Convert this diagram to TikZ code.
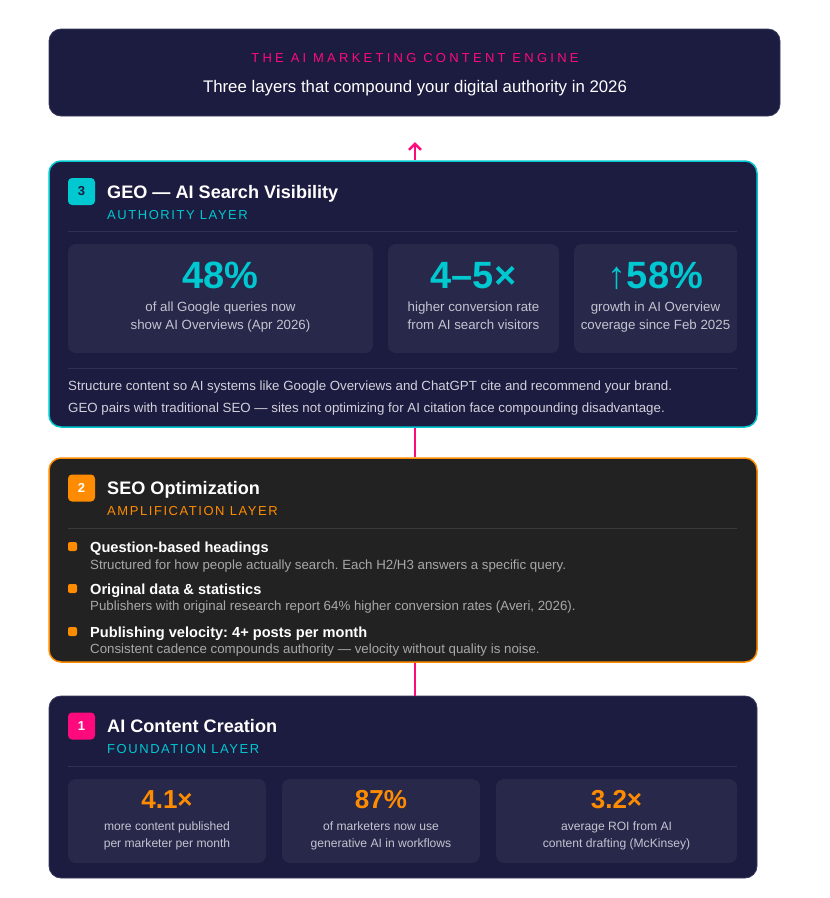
\documentclass[tikz,border=0pt]{standalone}
\usepackage{fontspec}
\setmainfont{Liberation Sans}
\usetikzlibrary{arrows.meta}
\frenchspacing
\definecolor{navy}{HTML}{1C1B40}
\definecolor{cardbg}{HTML}{28284B}
\definecolor{seobg}{HTML}{222222}
\definecolor{cyanc}{HTML}{00C8D0}
\definecolor{orangec}{HTML}{FF8C00}
\definecolor{pinkc}{HTML}{FF0A7C}
\definecolor{divnavy}{HTML}{302F58}
\definecolor{divseo}{HTML}{3A3A3A}
\definecolor{greytxt}{HTML}{C4C4D0}
\definecolor{seogrey}{HTML}{A8A8A8}
\definecolor{paratxt}{HTML}{D2D2DC}
\definecolor{edgec}{HTML}{3A3960}
\tikzset{
  layer/.style={rectangle, rounded corners=12pt, inner sep=0pt},
  card/.style={rectangle, rounded corners=8pt, fill=cardbg, inner sep=0pt},
  badge/.style={rectangle, rounded corners=4pt, minimum width=27pt, minimum height=27pt, inner sep=0pt, font=\fontsize{13}{13}\selectfont\bfseries},
  tw/.style={inner sep=0pt, anchor=base west},
  tcen/.style={inner sep=0pt, anchor=base},
  hdtitle/.style={tcen, text=pinkc, font=\fontsize{13}{15}\selectfont\addfontfeatures{LetterSpace=25}},
  hdsub/.style={tcen, text=white, font=\fontsize{16.8}{19}\selectfont},
  ltitle/.style={tw, text=white, font=\fontsize{18.1}{20}\selectfont\bfseries},
  lsub/.style={tw, font=\fontsize{13}{15}\selectfont\addfontfeatures{LetterSpace=12}},
  bignum/.style={tcen, text=cyanc, font=\fontsize{38}{40}\selectfont\bfseries},
  midnum/.style={tcen, text=orangec, font=\fontsize{26}{28}\selectfont\bfseries},
  cardtxt/.style={tcen, text=greytxt, font=\fontsize{13.3}{15}\selectfont},
  cardtxts/.style={tcen, text=greytxt, font=\fontsize{12.1}{14}\selectfont},
  para/.style={tw, text=paratxt, font=\fontsize{13.3}{15}\selectfont},
  btitle/.style={tw, text=white, font=\fontsize{14.6}{16}\selectfont\bfseries},
  bsub/.style={tw, text=seogrey, font=\fontsize{13.3}{15}\selectfont},
  bullet/.style={rectangle, rounded corners=2pt, fill=orangec, minimum width=9pt, minimum height=9pt, inner sep=0pt},
  divnav/.style={draw=divnavy, line width=1pt},
  divs/.style={draw=divseo, line width=1pt},
  conn/.style={draw=pinkc, line width=2.5pt}
}
\begin{document}
\begin{tikzpicture}[x=1pt,y=-1pt]
\fill[white] (0,0) rectangle (830,898);
\useasboundingbox (0,0) rectangle (830,898);

% layer boxes
\node[layer, fill=navy, draw=edgec, line width=0.8pt, minimum width=731pt, minimum height=87pt] (hdr) at (414.5,72.5) {};
\node[layer, fill=navy, draw=cyanc, line width=1.5pt, minimum width=708pt, minimum height=266pt] (geo) at (403,294) {};
\node[layer, fill=seobg, draw=orangec, line width=1.5pt, minimum width=708pt, minimum height=204pt] (seo) at (403,560) {};
\node[layer, fill=navy, draw=edgec, line width=0.8pt, minimum width=708pt, minimum height=182pt] (ai) at (403,787) {};

% connectors
\coordinate (tip) at (415,142);
\draw[conn, -{Straight Barb[length=6pt,width=12pt]}] (tip |- geo.north) -- (tip);
\draw[conn] (tip |- geo.south) -- (tip |- seo.north);
\draw[conn] (tip |- seo.south) -- (tip |- ai.north);

% header
\node[hdtitle] (hdt) at (415,62.5) {THE AI MARKETING CONTENT ENGINE};
\node[hdsub] (hds) at (415,92.8) {Three layers that compound your digital authority in 2026};

% GEO layer
\node[badge, fill=cyanc, text=navy] (b3) at (81.5,191.5) {3};
\node[ltitle] (geot) at (107,198.3) {GEO — AI Search Visibility};
\node[lsub, text=cyanc] (geos) at (107,219.7) {AUTHORITY LAYER};
\draw[divnav] (68,231) -- (737,231);
\node[card, minimum width=305pt, minimum height=109pt] (g1) at (220.5,298.5) {};
\node[card, minimum width=171pt, minimum height=109pt] (g2) at (473.5,298.5) {};
\node[card, minimum width=163pt, minimum height=109pt] (g3) at (655.5,298.5) {};
\node[bignum] (g1n) at (220.5,288.7) {48\%};
\node[cardtxt] (g1a) at (220.5,311.5) {of all Google queries now};
\node[cardtxt] (g1b) at (220.5,329.5) {show AI Overviews (Apr 2026)};
\node[bignum] (g2n) at (473.5,288.7) {4–5×};
\node[cardtxt] (g2a) at (473.5,311.5) {higher conversion rate};
\node[cardtxt] (g2b) at (473.5,329.5) {from AI search visitors};
\node[bignum] (g3n) at (655.5,288.7) {{\mdseries ↑}58\%};
\node[cardtxt] (g3a) at (655.5,311.5) {growth in AI Overview};
\node[cardtxt] (g3b) at (655.5,329.5) {coverage since Feb 2025};
\draw[divnav] (68,368) -- (737,368);
\node[para] (gp1) at (68,390.5) {Structure content so AI systems like Google Overviews and ChatGPT cite and recommend your brand.};
\node[para] (gp2) at (68,412.5) {GEO pairs with traditional SEO — sites not optimizing for AI citation face compounding disadvantage.};

% SEO layer
\node[badge, fill=orangec, text=white] (b2) at (81.5,488) {2};
\node[ltitle] (seot) at (107,494.3) {SEO Optimization};
\node[lsub, text=orangec] (seos) at (107,515.7) {AMPLIFICATION LAYER};
\draw[divs] (68,528) -- (737,528);
\node[bullet] (k1) at (72.5,546.5) {};
\node[btitle] (s1t) at (90,552) {Question-based headings};
\node[bsub] (s1s) at (90,569.5) {Structured for how people actually search. Each H2/H3 answers a specific query.};
\node[bullet] (k2) at (72.5,588.5) {};
\node[btitle] (s2t) at (90,594) {Original data \& statistics};
\node[bsub] (s2s) at (90,610.5) {Publishers with original research report 64\% higher conversion rates (Averi, 2026).};
\node[bullet] (k3) at (72.5,631.5) {};
\node[btitle] (s3t) at (90,637) {Publishing velocity: 4+ posts per month};
\node[bsub] (s3s) at (90,653.5) {Consistent cadence compounds authority — velocity without quality is noise.};

% AI layer
\node[badge, fill=pinkc, text=white] (b1) at (81.5,726) {1};
\node[ltitle] (ait) at (107,732.3) {AI Content Creation};
\node[lsub, text=cyanc] (ais) at (107,753.7) {FOUNDATION LAYER};
\draw[divnav] (68,766) -- (737,766);
\node[card, minimum width=198pt, minimum height=84pt] (a1) at (167,821) {};
\node[card, minimum width=198pt, minimum height=84pt] (a2) at (381,821) {};
\node[card, minimum width=241pt, minimum height=84pt] (a3) at (616.5,821) {};
\node[midnum] (a1n) at (167,808.4) {4.1×};
\node[cardtxts] (a1a) at (167,830.3) {more content published};
\node[cardtxts] (a1b) at (167,847.3) {per marketer per month};
\node[midnum] (a2n) at (381,808.4) {87\%};
\node[cardtxts] (a2a) at (381,830.3) {of marketers now use};
\node[cardtxts] (a2b) at (381,847.3) {generative AI in workflows};
\node[midnum] (a3n) at (616.5,808.4) {3.2×};
\node[cardtxts] (a3a) at (616.5,830.3) {average ROI from AI};
\node[cardtxts] (a3b) at (616.5,847.3) {content drafting (McKinsey)};
\end{tikzpicture}
\end{document}
